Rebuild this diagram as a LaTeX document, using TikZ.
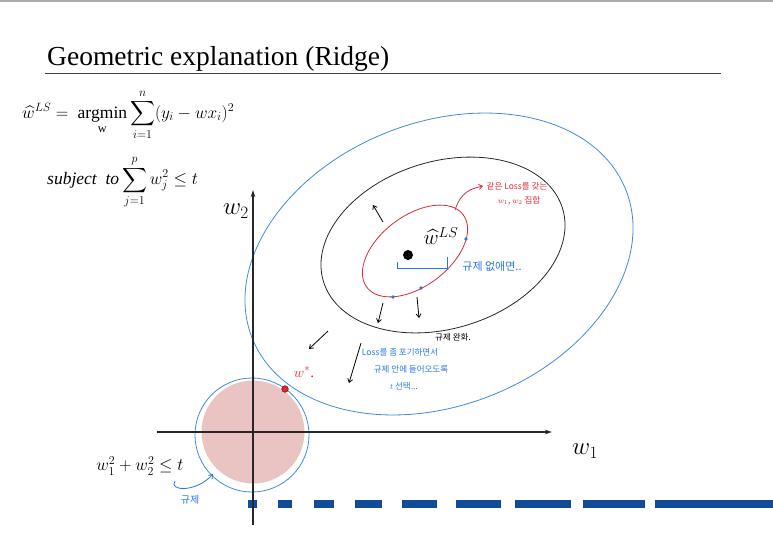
\documentclass[tikz,border=0pt]{standalone}
\usepackage{fontspec}
\usepackage{amsmath}
\setmainfont{Liberation Serif}
\newfontfamily\kr{Noto Sans CJK KR}
\usetikzlibrary{arrows.meta}
\definecolor{lblue}{RGB}{62,138,224}
\definecolor{tblue}{RGB}{40,120,225}
\definecolor{hred}{RGB}{214,44,52}
\definecolor{pinkfill}{RGB}{233,196,194}
\definecolor{dashblue}{RGB}{15,76,154}
\tikzset{
  hand/.style={line width=0.8pt,-{Straight Barb[length=3.5pt,width=5pt]}},
  krtext/.style={inner sep=0pt,font=\kr\fontsize{8.5}{10}\selectfont},
  dashbox/.style={fill=dashblue,draw=none},
  axis/.style={line width=1.1pt,black!85,-{Stealth[length=7pt,width=4.5pt]}}
}
\begin{document}
\begin{tikzpicture}[x=1pt,y=-1pt]
\useasboundingbox (0,0) rectangle (773,541);
% top rule
\draw[gray!65,line width=1.6pt] (0,0.8) -- (773,0.8);
% title
\node[anchor=base west,inner sep=0pt,font=\fontsize{27.5}{32}\selectfont] (title) at (47,65) {Geometric explanation (Ridge)};
\draw[black!75,line width=0.8pt] (45,73) -- (721,73);
% formulas
\node[anchor=west,inner sep=0pt,font=\fontsize{17.5}{21}\selectfont] (f1) at (22,115)
  {$\displaystyle \widehat{w}^{LS} = \ \mathop{\mathrm{argmin}}\limits_{\mathrm{w}} \sum_{i=1}^{n} (y_i - w x_i)^2$};
\node[anchor=west,inner sep=0pt,font=\fontsize{17.5}{21}\selectfont] (f2) at (47,182)
  {$\displaystyle \mathit{subject\ \ to} \sum_{j=1}^{p} w_j^2 \le t$};
% constraint disc
\fill[pinkfill] (253,432) circle (51.5);
\draw[lblue,line width=0.8pt] (252,435) circle (57);
% ellipses
\draw[lblue,line width=0.8pt,shift={(439,264)},rotate=21.6] (0,0) ellipse [x radius=201,y radius=141.5];
\draw[black!85,line width=0.8pt,shift={(443,245)},rotate=17] (0,0) ellipse [x radius=125,y radius=83.6];
\draw[hred,line width=0.8pt,shift={(415,251)},rotate=37] (0,0) ellipse [x radius=60.3,y radius=35.2];
% axes
\coordinate (yb) at (253,525);
\coordinate (yt) at (253,190);
\coordinate (xl) at (157,432);
\coordinate (xr) at (552,432);
\draw[axis] (yb) -- (yt);
\draw[axis] (xl) -- (xr);
\node[font=\fontsize{24}{28}\selectfont] (w2) at (236,211) {$w_2$};
\node[font=\fontsize{24}{28}\selectfont] (w1) at (585,451) {$w_1$};
% LS estimate
\fill[black] (408,255) circle (5);
\node[font=\fontsize{21}{24}\selectfont] (wls) at (441,236) {$\widehat{w}^{LS}$};
\fill[tblue] (466,239) circle (1.8);
\fill[tblue] (421,288) circle (1.8);
\fill[tblue] (393,297) circle (1.8);
\draw[tblue,line width=1pt] (397,262) -- (397,268) -- (447,268) -- (447,257);
\node[krtext,text=tblue,font=\kr\fontsize{11}{13}\selectfont] (noreg) at (492,266) {규제 없애면..};
% red annotation
\coordinate (ra1) at (455,210);
\coordinate (ra2) at (483,186);
\draw[hred,hand] (ra1) .. controls (461,192) and (470,189) .. (ra2);
\node[krtext,text=hred] (same1) at (517,186) {같은 Loss를 갖는};
\node[krtext,text=hred] (same2) at (519,201) {$w_1$, $w_2$ 집합};
% black arrows
\coordinate (a1s) at (383,222); \coordinate (a1e) at (373,205);
\coordinate (a2s) at (383,303); \coordinate (a2e) at (378,323);
\coordinate (a3s) at (417,297); \coordinate (a3e) at (419,318);
\coordinate (a4s) at (328,331); \coordinate (a4e) at (309,349);
\coordinate (a5s) at (361,343); \coordinate (a5e) at (349,383);
\draw[hand] (a1s) -- (a1e);
\draw[hand] (a2s) -- (a2e);
\draw[hand] (a3s) -- (a3e);
\draw[hand] (a4s) -- (a4e);
\draw[hand] (a5s) -- (a5e);
\node[krtext] (relax) at (453,337) {규제 완화.};
\node[krtext,text=tblue] (b1) at (400,352) {Loss를 좀 포기하면서};
\node[krtext,text=tblue] (b2) at (411,369) {규제 안에 들어오도록};
\node[krtext,text=tblue] (b3) at (404,386) {$t$ 선택...};
% solution
\node[text=hred,font=\fontsize{15}{18}\selectfont] (wstar) at (304,372) {$w^{*}$.};
\fill[hred,draw=red!50!black,line width=0.5pt] (285,389) circle (3.3);
% constraint label
\node[font=\fontsize{17.5}{21}\selectfont] (cons) at (140,466) {$w_1^2 + w_2^2 \le t$};
\coordinate (ca1) at (175,481);
\coordinate (ca2) at (213,474);
\draw[tblue,hand] (ca1) .. controls (168,491) and (196,493) .. (ca2);
\node[krtext,text=tblue,font=\kr\fontsize{10}{12}\selectfont] (reg) at (190,500) {규제};
% dashed bar
\fill[dashbox] (248.3,500) rectangle (256.7,508);
\fill[dashbox] (278.3,500) rectangle (292.3,508);
\fill[dashbox] (314,500) rectangle (334,508);
\fill[dashbox] (355,500) rectangle (382.3,508);
\fill[dashbox] (401.7,500) rectangle (436.7,508);
\fill[dashbox] (456,500) rectangle (500.7,508);
\fill[dashbox] (515.3,500) rectangle (570.7,508);
\fill[dashbox] (582.7,500) rectangle (645,508);
\fill[dashbox] (655,500) rectangle (773,508);
\draw[line width=1.1pt,black!85] (253,495) -- (yb);
\end{tikzpicture}
\end{document}
